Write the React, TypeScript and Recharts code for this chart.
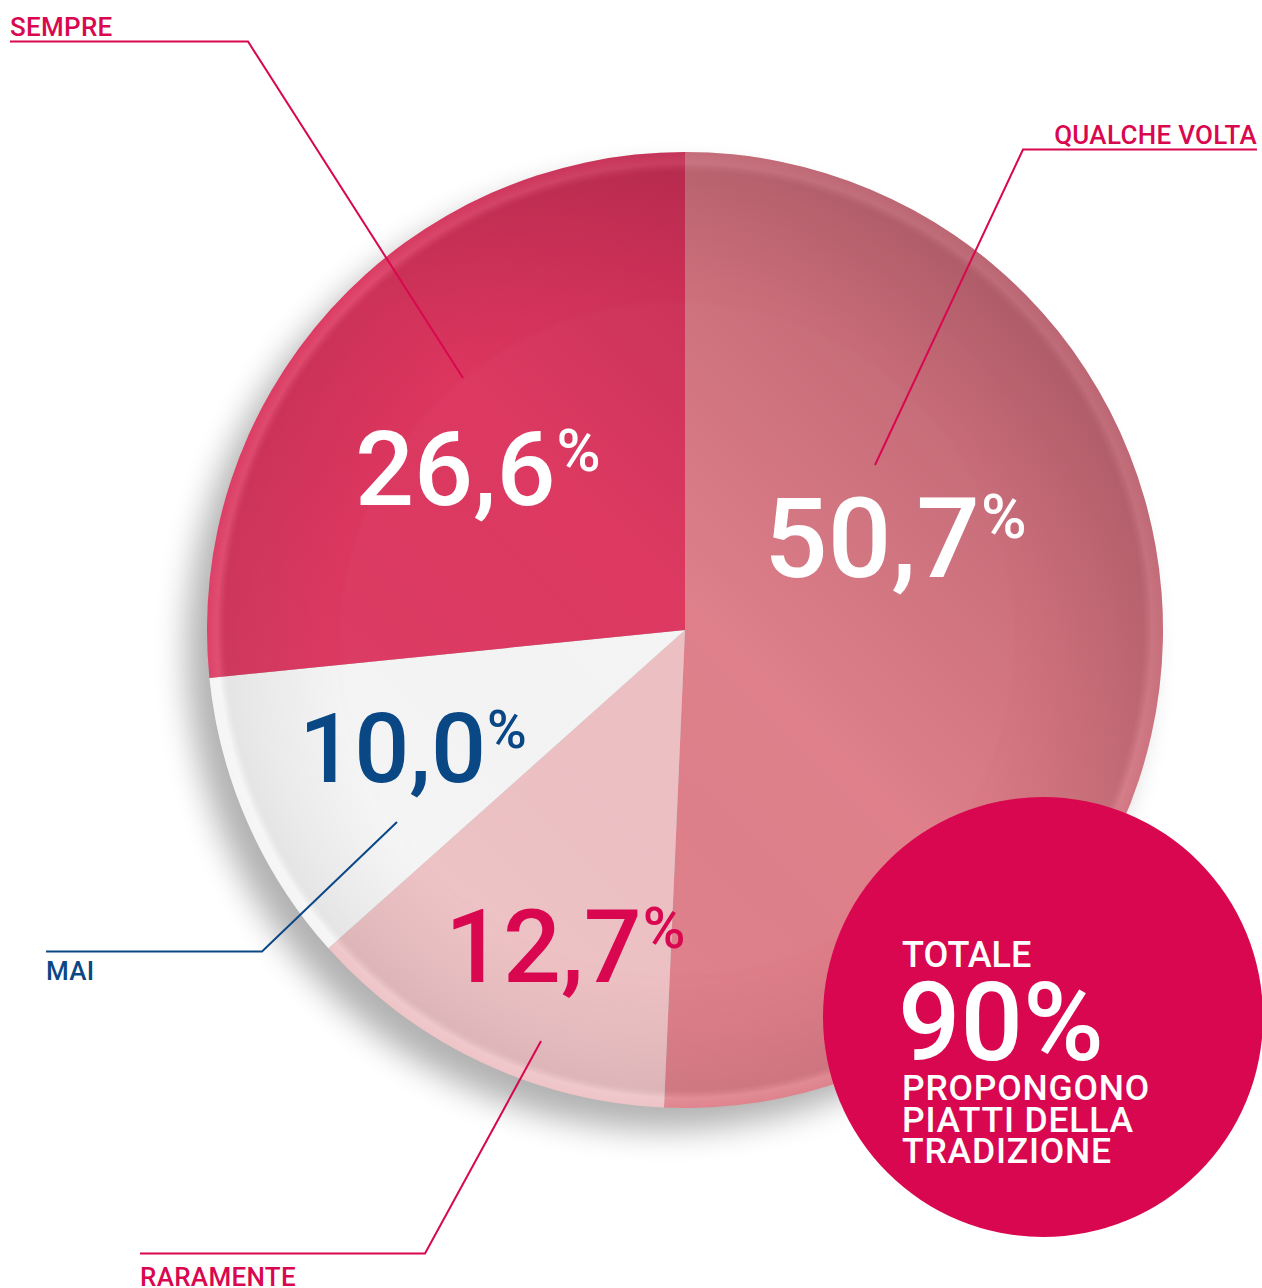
import React from 'react';
import { PieChart, Pie, Cell } from 'recharts';

// ---- data ----
const categories = ['QUALCHE VOLTA', 'RARAMENTE', 'MAI', 'SEMPRE'];
const values = [50.7, 12.7, 10.0, 26.6];
const totalTitle = 'TOTALE';
const totalValue = 90;
const totalCaption = ['PROPONGONO', 'PIATTI DELLA', 'TRADIZIONE'];

// ---- styles ----
const sliceColors = ['#de7d88', '#edc0c3', '#f5f5f5', '#dc355e'];
const valueColors = ['#ffffff', '#d9074f', '#0a4785', '#ffffff'];
const nameColors = ['#d9074f', '#d9074f', '#0a4785', '#d9074f'];
const FONT = "Roboto, 'DejaVu Sans', Arial, sans-serif";

const data = categories.map((name, i) => ({ name, value: values[i] }));

const W = 1262;
const H = 1288;
const CX = 685;
const CY = 630;
const R = 478;

// label layout, offsets relative to the pie centre
type Lay = {
  num: [number, number];
  size: number;
  pct: number;
  anchor: 'start' | 'end';
  name: [number, number];
  line: [number, number][];
};
const layout: Lay[] = [
  { num: [79, -53], size: 112, pct: 62, anchor: 'end', name: [572, -486], line: [[190, -165], [338, -480.5], [572, -480.5]] },
  { num: [-240, 352], size: 102, pct: 58, anchor: 'start', name: [-545, 656], line: [[-144, 411], [-260, 623.5], [-545, 623.5]] },
  { num: [-386, 152], size: 97, pct: 54, anchor: 'start', name: [-639, 350], line: [[-288, 192], [-423, 321.5], [-639, 321.5]] },
  { num: [-330, -125], size: 104, pct: 60, anchor: 'start', name: [-675, -594], line: [[-222, -252], [-437, -588.5], [-675, -588.5]] },
];

const fmt = (v: number) => v.toFixed(1).replace('.', ',');

const renderLabel = (props: any) => {
  const i: number = props.index;
  const cx: number = typeof props.cx === 'number' ? props.cx : CX;
  const cy: number = typeof props.cy === 'number' ? props.cy : CY;
  const L = layout[i];
  const pctDy = -0.711 * L.size + 0.711 * L.pct - 3;
  const pts = L.line.map(([dx, dy]) => `${cx + dx},${cy + dy}`).join(' ');
  return (
    <g key={`lab-${i}`}>
      <polyline points={pts} fill="none" stroke={nameColors[i]} strokeWidth={2} />
      <text
        x={cx + L.name[0]}
        y={cy + L.name[1]}
        textAnchor={L.anchor}
        fontFamily={FONT}
        fontWeight={500}
        fontSize={26}
        letterSpacing={0.3}
        fill={nameColors[i]}
      >
        {categories[i]}
      </text>
      <text
        x={cx + L.num[0]}
        y={cy + L.num[1]}
        fontFamily={FONT}
        fontWeight={500}
        fill={valueColors[i]}
      >
        <tspan fontSize={L.size}>{fmt(values[i])}</tspan>
        <tspan fontSize={L.pct} dx={1} dy={pctDy}>%</tspan>
      </text>
    </g>
  );
};

export default function App() {
  return (
    <div style={{ position: 'absolute', left: 0, top: 0, width: W, height: H, background: '#ffffff', overflow: 'hidden' }}>
      <svg width={W} height={H} style={{ position: 'absolute', left: 0, top: 0 }}>
        <defs>
          <filter id="plateShadowBlur" x="-20%" y="-20%" width="140%" height="140%">
            <feGaussianBlur stdDeviation="16" />
          </filter>
          <radialGradient id="plateRing" gradientUnits="userSpaceOnUse" cx={CX} cy={CY} r={R} fx={CX - 25} fy={CY + 30}>
            <stop offset="0" stopColor="#ffffff" stopOpacity={0.02} />
            <stop offset="0.7" stopColor="#ffffff" stopOpacity={0.02} />
            <stop offset="0.72" stopColor="#000000" stopOpacity={0} />
            <stop offset="0.9" stopColor="#000000" stopOpacity={0.05} />
            <stop offset="0.96" stopColor="#000000" stopOpacity={0.07} />
            <stop offset="0.978" stopColor="#ffffff" stopOpacity={0.1} />
            <stop offset="1" stopColor="#ffffff" stopOpacity={0.03} />
          </radialGradient>
          <linearGradient id="plateLight" gradientUnits="userSpaceOnUse" x1={1120} y1={190} x2={420} y2={900}>
            <stop offset="0" stopColor="#46081e" stopOpacity={0.3} />
            <stop offset="0.35" stopColor="#46081e" stopOpacity={0.13} />
            <stop offset="0.6" stopColor="#46081e" stopOpacity={0} />
            <stop offset="1" stopColor="#ffffff" stopOpacity={0.04} />
          </linearGradient>
        </defs>
        <circle cx={CX - 20} cy={CY + 22} r={R} fill="#000000" opacity={0.3} filter="url(#plateShadowBlur)" />
      </svg>

      <div style={{ position: 'absolute', left: 0, top: 0 }}>
        <PieChart width={W} height={H} margin={{ top: 0, right: 0, bottom: 0, left: 0 }}>
          <Pie
            data={data}
            dataKey="value"
            nameKey="name"
            cx={CX}
            cy={CY}
            outerRadius={R}
            startAngle={90}
            endAngle={-270}
            stroke="none"
            isAnimationActive={false}
          >
            {data.map((d, i) => (
              <Cell key={d.name} fill={sliceColors[i]} stroke="none" />
            ))}
          </Pie>
          <Pie
            data={data}
            dataKey="value"
            nameKey="name"
            cx={CX}
            cy={CY}
            outerRadius={R}
            startAngle={90}
            endAngle={-270}
            stroke="none"
            fill="url(#plateRing)"
            isAnimationActive={false}
          >
            {data.map((d) => (
              <Cell key={d.name} fill="url(#plateRing)" stroke="none" />
            ))}
          </Pie>
          <Pie
            data={data}
            dataKey="value"
            nameKey="name"
            cx={CX}
            cy={CY}
            outerRadius={R}
            startAngle={90}
            endAngle={-270}
            stroke="none"
            fill="url(#plateLight)"
            label={renderLabel}
            labelLine={false}
            isAnimationActive={false}
          >
            {data.map((d) => (
              <Cell key={d.name} fill="url(#plateLight)" stroke="none" />
            ))}
          </Pie>
        </PieChart>
      </div>

      <svg width={W} height={H} style={{ position: 'absolute', left: 0, top: 0 }}>
        <circle cx={1043} cy={1017} r={220} fill="#d9074f" />
        <text x={902} y={967} fontFamily={FONT} fontWeight={500} fontSize={36} fill="#ffffff">
          {totalTitle}
        </text>
        <text x={898} y={1060} fontFamily={FONT} fontWeight={500} fontSize={110} fill="#ffffff">
          {`${totalValue}%`}
        </text>
        {totalCaption.map((line, k) => (
          <text key={line} x={902} y={1100 + k * 31.5} fontFamily={FONT} fontWeight={500} fontSize={35.5} letterSpacing={0.8} fill="#ffffff">
            {line}
          </text>
        ))}
      </svg>
    </div>
  );
}
